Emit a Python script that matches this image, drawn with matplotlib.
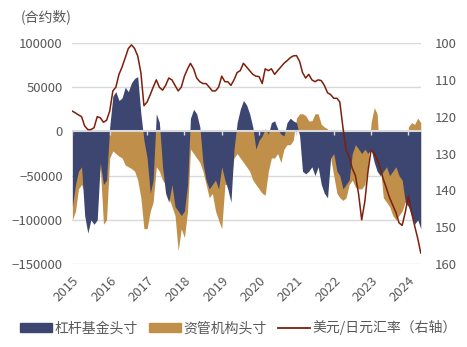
import numpy as np
import pandas as pd
import matplotlib
matplotlib.use('Agg')
import matplotlib.pyplot as plt
import matplotlib.dates as mdates
from matplotlib.patches import Patch
from matplotlib.lines import Line2D

plt.rcParams['font.family'] = ['Noto Sans CJK SC', 'DejaVu Sans']

# 月度数据 2015-01 ~ 2024-05
months = pd.date_range('2015-01-01', '2024-05-01', freq='MS')

# 杠杆基金净头寸（千张）
lev_funds = [
    -85, -60, -45, -40, -95, -115, -100, -105, -100, -35, -60, -55,
    5, 40, 45, 35, 38, 50, 45, 55, 60, 62, 20, -10,
    -30, -70, -55, 20, 10, -40, -70, -80, -60, -85, -90, -95,
    -90, -60, 15, 25, 20, 5, -35, -55, -65, -60, -55, -65,
    -40, -55, -65, -80, -20, 10, 25, 35, 30, 20, 5, -20,
    -10, -5, 3, -3, 10, 12, 3, -3, -5, 10, 15, 12,
    10, -5, -45, -48, -45, -40, -50, -40, -60, -70, -75, -30,
    -25, -45, -50, -65, -60, -55, -25, -15, -20, -25, -20, -25,
    -20, -35, -45, -50, -45, -40, -50, -45, -40, -50, -55, -80,
    -85, -95, -105, -100, -110,
]

# 资管机构净头寸（千张）
asset_mgr = [
    -100, -90, -65, -60, -70, -70, -75, -80, -70, -40, -105, -100,
    -30, -22, -25, -28, -30, -38, -40, -42, -45, -55, -75, -110,
    -110, -90, -80, -40, -45, -55, -60, -75, -85, -95, -135, -110,
    -120, -90, -20, -25, -30, -35, -45, -60, -75, -70, -90, -100,
    -110, -60, -60, -55, -30, -25, -30, -35, -40, -45, -55, -60,
    -65, -70, -72, -45, -30, -30, -25, -35, -20, -15, -15, -10,
    15, 20, 20, 18, 12, 12, 20, 20, 8, 5, 3, -30,
    -50, -70, -75, -78, -75, -60, -55, -63, -65, -65, -60, -40,
    10, 27, 20, -40, -75, -80, -85, -95, -100, -95, -90, -80,
    5, 10, 8, 15, 10,
]

# 美元/日元汇率
usdjpy = [
    118.5, 119, 119.5, 120, 122.5, 123.5, 123.5, 123, 120, 120.3, 121.5, 121,
    118.5, 113, 112, 108.5, 106.5, 104, 101.5, 100.5, 101.5, 103.5, 108, 117,
    116, 114, 112, 110, 112, 112.8, 111.5, 109.5, 110, 111.5, 113, 112,
    109, 107, 105.5, 107, 109.5, 110.5, 111, 111, 112, 113, 113, 112,
    109, 110.5, 110.5, 111.5, 110, 108, 107.5, 105.5, 106.5, 107.5, 108.5, 109,
    109.1, 111, 107, 107.5, 107, 108.5, 107.5, 106.5, 105.5, 104.8, 104, 103.5,
    103.4, 105, 108, 109.5, 108.5, 110, 110.5, 110, 110.2, 111.5, 113.5, 114,
    115, 115, 116, 123, 129, 131, 134, 136, 141, 148, 143, 135,
    129, 130, 131.5, 134, 137, 139.5, 142, 144, 146, 148.8, 149.5, 146,
    141.5, 146, 149.5, 153, 157,
]

navy = '#3C4670'
tan = '#C08F4A'
red = '#7E1E0C'
grey = '#595959'

lev = np.array(lev_funds) * 1000
am = np.array(asset_mgr) * 1000

fig = plt.figure(figsize=(4.67, 3.47), dpi=100)
ax = fig.add_axes([0.155, 0.239, 0.746, 0.637])

ax.fill_between(months, 0, am, color=tan, lw=0, zorder=2)
ax.fill_between(months, 0, lev, color=navy, lw=0, zorder=3)

ax.set_ylim(-150000, 100000)
ax.set_yticks(np.arange(-150000, 100001, 50000))
ax.set_xlim(months[0], months[-1])
ax.grid(axis='y', color='#d9d9d9', lw=1)
ax.set_axisbelow(True)
ax.axhline(0, color='#d9d9d9', lw=1.5, zorder=4)

# 年份刻度
years = pd.date_range('2015-01-01', '2024-01-01', freq='YS')
ax.set_xticks(years)
ax.xaxis.set_major_formatter(mdates.DateFormatter('%Y'))
ax.vlines(years, -3500, 0, color='#d9d9d9', lw=1, zorder=4)
for lbl in ax.get_xticklabels():
    lbl.set_rotation(45)
    lbl.set_ha('right')
    lbl.set_va('top')
    lbl.set_rotation_mode('anchor')

ax.tick_params(axis='both', length=0, colors=grey, labelsize=9.5)
ax.tick_params(axis='y', pad=7)
ax.tick_params(axis='x', pad=7)
for s in ax.spines.values():
    s.set_visible(False)

ax2 = ax.twinx()
ax2.plot(months, usdjpy, color=red, lw=1.1)
ax2.set_ylim(160, 100)
ax2.set_yticks(np.arange(100, 161, 10))
ax2.tick_params(axis='y', length=0, colors=grey, labelsize=9.5, pad=10)
for s in ax2.spines.values():
    s.set_visible(False)

fig.text(0.045, 0.951, '(合约数)', color=grey, fontsize=10, va='center', ha='left')

handles = [
    Patch(color=navy, label='杠杆基金头寸'),
    Patch(color=tan, label='资管机构头寸'),
    Line2D([], [], color=red, lw=1.3, label='美元/日元汇率（右轴）'),
]
fig.legend(handles=handles, loc='center', bbox_to_anchor=(0.51, 0.055), ncol=3,
           frameon=False, fontsize=10, handlelength=2.3, handleheight=0.55,
           handletextpad=0.2, columnspacing=0.8, labelcolor=grey)

fig.savefig('out.png', dpi=100)
